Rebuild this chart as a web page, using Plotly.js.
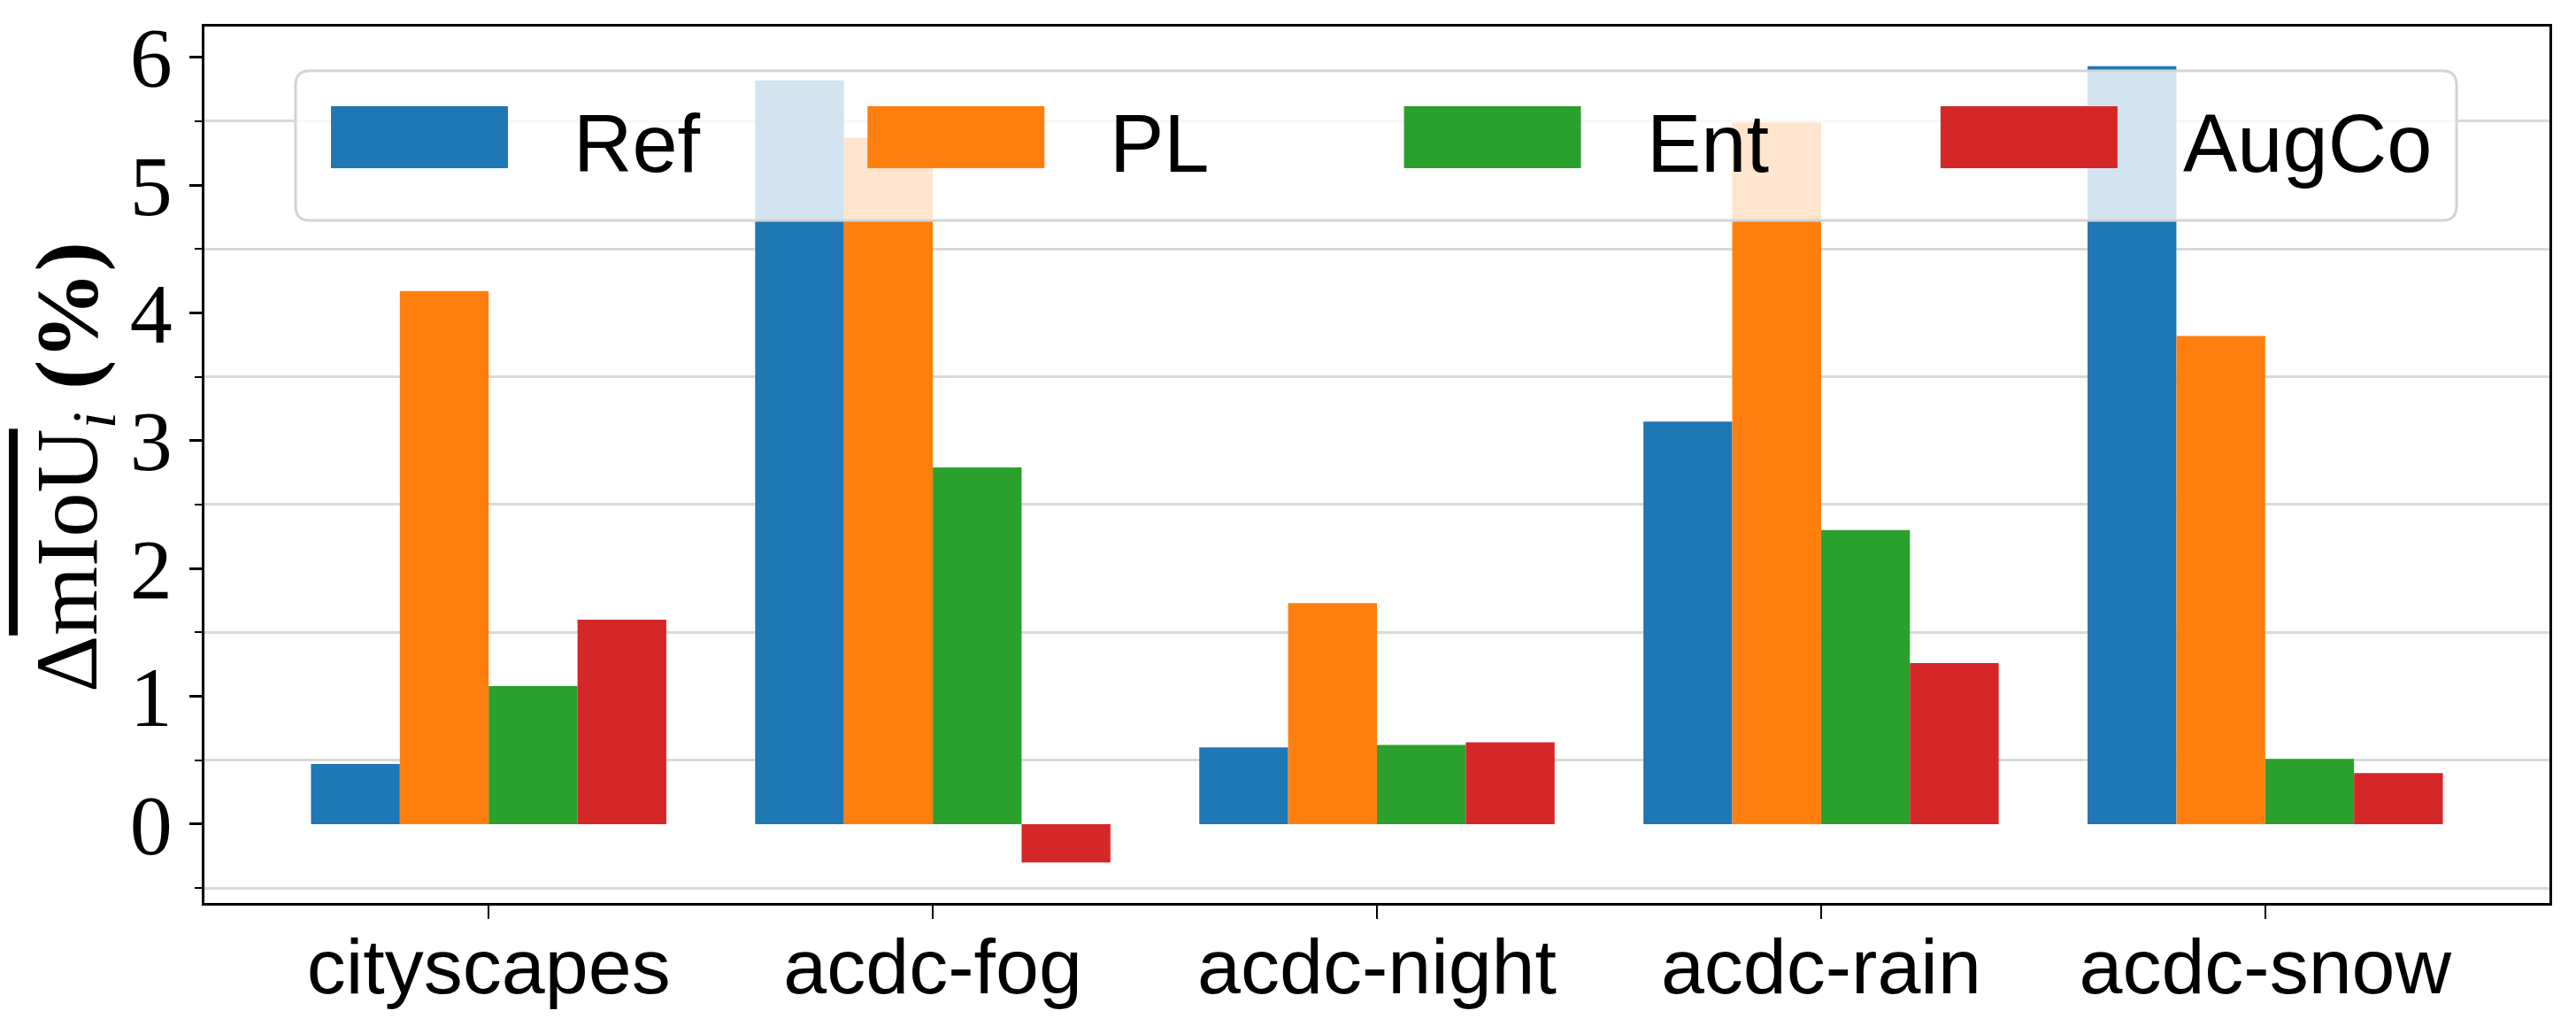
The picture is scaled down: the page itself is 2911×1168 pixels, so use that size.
<!DOCTYPE html>
<html>
<head>
<meta charset="utf-8">
<script src="https://cdn.plot.ly/plotly-3.0.1.min.js"></script>
<style>
  html, body { margin: 0; padding: 0; background: #fff; }
  #chart { width: 2911px; height: 1168px; }
</style>
</head>
<body>
<div id="chart"></div>
<script>
// data
let categories = ["cityscapes", "acdc-fog", "acdc-night", "acdc-rain", "acdc-snow"]
let seriesNames = ["Ref", "PL", "Ent", "AugCo"]
let refValues = [0.47, 5.82, 0.60, 3.15, 5.93]
let plValues = [4.17, 5.37, 1.73, 5.49, 3.82]
let entValues = [1.08, 2.79, 0.62, 2.30, 0.51]
let augcoValues = [1.60, -0.30, 0.64, 1.26, 0.40]
let yTickVals = [0, 1, 2, 3, 4, 5, 6]
let yMinorVals = [-0.5, 0.5, 1.5, 2.5, 3.5, 4.5, 5.5]

let colors = ["#1f77b4", "#ff7f0e", "#2ca02c", "#d62728"]
let allValues = [refValues, plValues, entValues, augcoValues]

let serif = "Liberation Serif, DejaVu Serif, serif"
let sans = "Liberation Sans, Arial, sans-serif"

// plot area in pixels
let W = 2911, H = 1168
let mL = 231, mR = 30, mT = 30, mB = 148
let pw = W - mL - mR, ph = H - mT - mB
function px2x(p) { return (p - mL) / pw }
function px2y(p) { return (H - mB - p) / ph }

// rounded rectangle path in paper units, corners given in pixels
function roundRect(x0, y0, x1, y1, r) {
    let X = px2x, Y = px2y
    return 'M' + X(x0 + r) + ',' + Y(y0) +
        ' L' + X(x1 - r) + ',' + Y(y0) +
        ' Q' + X(x1) + ',' + Y(y0) + ' ' + X(x1) + ',' + Y(y0 + r) +
        ' L' + X(x1) + ',' + Y(y1 - r) +
        ' Q' + X(x1) + ',' + Y(y1) + ' ' + X(x1 - r) + ',' + Y(y1) +
        ' L' + X(x0 + r) + ',' + Y(y1) +
        ' Q' + X(x0) + ',' + Y(y1) + ' ' + X(x0) + ',' + Y(y1 - r) +
        ' L' + X(x0) + ',' + Y(y0 + r) +
        ' Q' + X(x0) + ',' + Y(y0) + ' ' + X(x0 + r) + ',' + Y(y0) + ' Z'
}

let traces = seriesNames.map((name, i) => ({
    type: 'bar',
    name: name,
    x: categories,
    y: allValues[i],
    marker: { color: colors[i], line: { width: 0 } },
    showlegend: false,
    hoverinfo: 'x+y+name'
}))

// hand-built legend, so the swatches can be as large as in the reference
let shapes = [{
    type: 'path', xref: 'paper', yref: 'paper', layer: 'above',
    path: roundRect(334, 80, 2776, 249, 16),
    fillcolor: 'rgba(255,255,255,0.8)',
    line: { color: '#d3d3d3', width: 3 }
}]
let annotations = []
seriesNames.forEach((name, i) => {
    let left = 374 + i * 606.3
    shapes.push({
        type: 'rect', xref: 'paper', yref: 'paper', layer: 'above',
        x0: px2x(left), x1: px2x(left + 200), y0: px2y(190), y1: px2y(120),
        fillcolor: colors[i], line: { width: 0 }
    })
    annotations.push({
        xref: 'paper', yref: 'paper', x: px2x(left + 272), y: px2y(162),
        xanchor: 'left', yanchor: 'middle', showarrow: false,
        text: name, font: { family: sans, size: 92, color: '#000' }
    })
})

// y axis title as an annotation for exact placement
annotations.push({
    xref: 'paper', yref: 'paper', x: px2x(82), y: px2y(528),
    xanchor: 'center', yanchor: 'middle', showarrow: false, textangle: -90,
    text: 'Δ<span style="text-decoration:overline">mIoU</span><sub><i>i</i></sub> <b>(%)</b>',
    font: { family: serif, size: 100, color: '#000' }
})

let layout = {
    width: W, height: H,
    margin: { l: mL, r: mR, t: mT, b: mB, pad: 0 },
    paper_bgcolor: '#fff',
    plot_bgcolor: '#fff',
    barmode: 'group',
    bargap: 0.2,
    bargroupgap: 0,
    showlegend: false,
    xaxis: {
        type: 'category',
        range: [-0.64, 4.64],
        showline: true, mirror: true, linecolor: '#000', linewidth: 3,
        ticks: 'outside', ticklen: 15, tickwidth: 2, tickcolor: '#000',
        ticklabelstandoff: -22,
        showgrid: false, zeroline: false,
        tickfont: { family: sans, size: 88, color: '#000' },
        automargin: false
    },
    yaxis: {
        range: [-0.617, 6.24],
        tickvals: yTickVals,
        ticktext: yTickVals.map(String),
        showline: true, mirror: true, linecolor: '#000', linewidth: 3,
        ticks: 'outside', ticklen: 14, tickwidth: 2.5, tickcolor: '#000',
        showgrid: false, zeroline: false,
        minor: {
            tickvals: yMinorVals, ticks: 'outside', ticklen: 8, tickwidth: 2,
            tickcolor: '#000', showgrid: true, gridcolor: '#d9d9d9', gridwidth: 3
        },
        tickfont: { family: serif, size: 96, color: '#000' },
        automargin: false
    },
    shapes: shapes,
    annotations: annotations
}

Plotly.newPlot('chart', traces, layout, { displayModeBar: false, responsive: false })
</script>
</body>
</html>
